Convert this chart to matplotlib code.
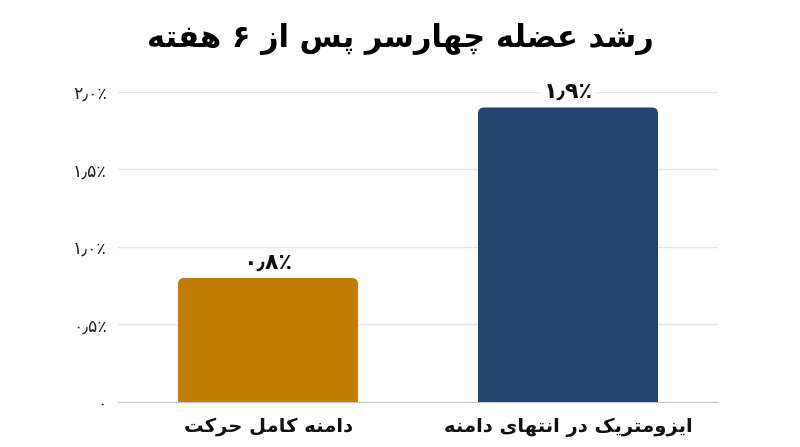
import matplotlib
matplotlib.use('Agg')
import matplotlib.pyplot as plt
from matplotlib.patches import FancyBboxPatch

# isolated, final, initial, medial (two-form letters join only to the right)
FORMS = {
    'ا': ('\uFE8D', '\uFE8E'),
    'د': ('\uFEA9', '\uFEAA'),
    'ر': ('\uFEAD', '\uFEAE'),
    'ز': ('\uFEAF', '\uFEB0'),
    'و': ('\uFEED', '\uFEEE'),
    'ب': ('\uFE8F', '\uFE90', '\uFE91', '\uFE92'),
    'ت': ('\uFE95', '\uFE96', '\uFE97', '\uFE98'),
    'ح': ('\uFEA1', '\uFEA2', '\uFEA3', '\uFEA4'),
    'س': ('\uFEB1', '\uFEB2', '\uFEB3', '\uFEB4'),
    'ش': ('\uFEB5', '\uFEB6', '\uFEB7', '\uFEB8'),
    'ض': ('\uFEBD', '\uFEBE', '\uFEBF', '\uFEC0'),
    'ع': ('\uFEC9', '\uFECA', '\uFECB', '\uFECC'),
    'ف': ('\uFED1', '\uFED2', '\uFED3', '\uFED4'),
    'ک': ('\uFB8E', '\uFB8F', '\uFB90', '\uFB91'),
    'ل': ('\uFEDD', '\uFEDE', '\uFEDF', '\uFEE0'),
    'م': ('\uFEE1', '\uFEE2', '\uFEE3', '\uFEE4'),
    'ن': ('\uFEE5', '\uFEE6', '\uFEE7', '\uFEE8'),
    'ه': ('\uFEE9', '\uFEEA', '\uFEEB', '\uFEEC'),
    'ی': ('\uFBFC', '\uFBFD', '\uFBFE', '\uFBFF'),
    'پ': ('\uFB56', '\uFB57', '\uFB58', '\uFB59'),
    'چ': ('\uFB7A', '\uFB7B', '\uFB7C', '\uFB7D'),
}


def fa(text):
    out = []
    for i, ch in enumerate(text):
        if ch not in FORMS:
            out.append(ch)
            continue
        prev = text[i - 1] if i > 0 else ''
        nxt = text[i + 1] if i + 1 < len(text) else ''
        joins_prev = prev in FORMS and len(FORMS[prev]) == 4
        joins_next = len(FORMS[ch]) == 4 and nxt in FORMS
        f = FORMS[ch]
        if joins_prev and joins_next:
            out.append(f[3])
        elif joins_next:
            out.append(f[2])
        elif joins_prev:
            out.append(f[1])
        else:
            out.append(f[0])
    return ''.join(reversed(out))


title = 'رشد عضله چهارسر پس از ۶ هفته'
categories = ['دامنه کامل حرکت', 'ایزومتریک در انتهای دامنه']
values = [0.8, 1.9]
value_labels = ['۰٫۸٪', '۱٫۹٪']
colors = ['#C17C02', '#21456F']
yticks = [0, 0.5, 1.0, 1.5, 2.0]
ytick_labels = ['۰', '۰٫۵٪', '۱٫۰٪', '۱٫۵٪', '۲٫۰٪']

plt.rcParams['font.family'] = ['DejaVu Sans']

fig = plt.figure(figsize=(8, 4.47), dpi=100)
ax = fig.add_axes([0.1475, 0.1007, 0.75, 0.6935])
ax.set_xlim(-0.5, 1.5)
ax.set_ylim(0, 2.0)

bw = 0.6
aspect = 300 / 155
for i, (v, c) in enumerate(zip(values, colors)):
    p = FancyBboxPatch((i - bw / 2, -0.1), bw, v + 0.1,
                       boxstyle='round,pad=0,rounding_size=0.02',
                       mutation_aspect=aspect, fc=c, ec='none', zorder=2)
    ax.add_patch(p)
    ax.text(i, v + 0.1, value_labels[i], ha='center', va='center',
            fontsize=16, fontweight='bold', color='#111111', zorder=4,
            bbox=dict(fc='white', ec='none', pad=2))

ax.set_yticks(yticks)
ax.set_yticklabels(ytick_labels, fontsize=12.5, color='#222222')
ax.set_xticks(range(len(categories)))
ax.set_xticklabels([fa(c) for c in categories], fontsize=14,
                   fontweight='bold', color='#111111')
ax.tick_params(axis='both', length=0)
ax.tick_params(axis='y', pad=8)
ax.tick_params(axis='x', pad=11)
ax.grid(axis='y', color='#E6E6E6', linewidth=1, zorder=0)
ax.set_axisbelow(True)
for s in ['top', 'right', 'left']:
    ax.spines[s].set_visible(False)
ax.spines['bottom'].set_color('#C8C8C8')
ax.spines['bottom'].set_zorder(3)

fig.text(0.5, 0.912, fa(title), ha='center', va='center', fontsize=22,
         fontweight='bold', color='#000000')

fig.savefig('out.png', dpi=100, facecolor='white')
